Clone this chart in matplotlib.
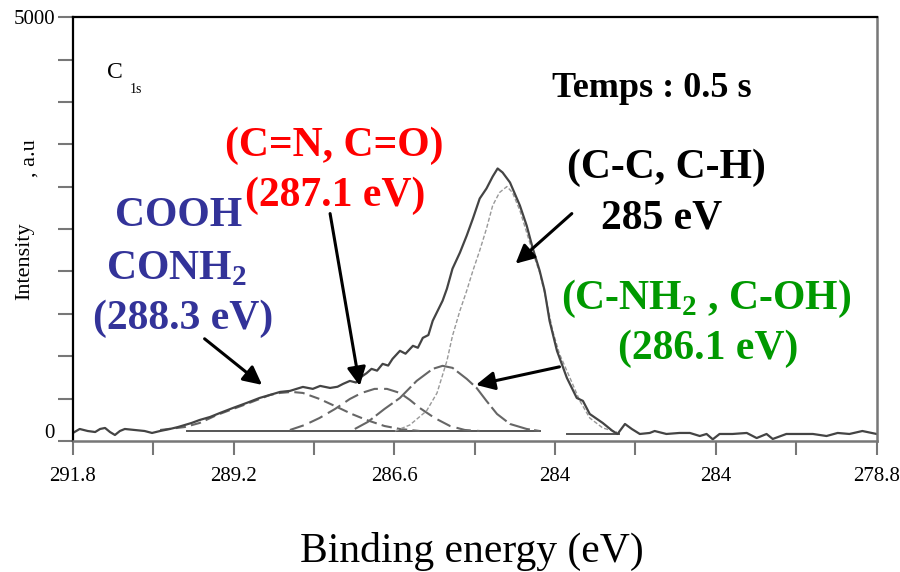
import matplotlib
matplotlib.use('Agg')
import matplotlib.pyplot as plt
import matplotlib.transforms as mtransforms

plt.rcParams['font.family'] = 'Liberation Serif'
plt.rcParams['mathtext.fontset'] = 'custom'
plt.rcParams['mathtext.rm'] = 'Liberation Serif'
plt.rcParams['mathtext.bf'] = 'Liberation Serif:bold'

# measured spectrum (binding energy in eV, intensity in a.u.)
env_e = [291.80, 291.69, 291.56, 291.44, 291.36, 291.28, 291.20, 291.12, 291.04, 290.96,
         290.80, 290.64, 290.52, 290.39, 290.23, 290.10, 289.99, 289.88, 289.75, 289.58,
         289.42, 289.21, 288.99, 288.78, 288.61, 288.45, 288.29, 288.08, 287.92, 287.80,
         287.64, 287.52, 287.43, 287.32, 287.22, 287.16, 287.05, 286.97, 286.88, 286.79,
         286.70, 286.63, 286.51, 286.42, 286.30, 286.22, 286.14, 286.05, 285.98,
         285.82, 285.75, 285.66, 285.54, 285.43, 285.33, 285.22, 285.11, 285.01, 284.93,
         284.85, 284.73, 284.57, 284.46, 284.36, 284.25, 284.17, 284.09, 283.97, 283.81,
         283.65, 283.55, 283.44, 283.23, 283.07, 282.99, 282.87, 282.76, 282.63, 282.47,
         282.39, 282.20, 281.99, 281.82, 281.66, 281.55, 281.45, 281.34, 281.13, 280.90,
         280.74, 280.58, 280.48, 280.26, 280.04, 279.83, 279.61, 279.43, 279.24, 279.03,
         278.80]
env_i = [95, 142, 118, 106, 142, 154, 106, 71, 118, 142,
         130, 118, 95, 118, 142, 165, 189, 213, 248, 284,
         331, 390, 449, 508, 544, 579, 591, 638, 615, 650,
         626, 640, 674, 709, 690, 745, 800, 851, 830, 910,
         890, 969, 1064, 1030, 1123, 1100, 1217, 1250, 1418,
         1655, 1797, 2033, 2222, 2423, 2624, 2860, 2979, 3120, 3215,
         3168, 3050, 2778, 2541, 2269, 2009, 1773, 1418, 1064, 745,
         508, 473, 319, 213, 118, 83, 201, 142, 83, 95,
         118, 83, 95, 95, 59, 83, 20, 83, 83, 95,
         35, 83, 24, 83, 83, 83, 59, 95, 83, 118,
         83]

# fitted components
cooh_e = [290.39, 289.99, 289.75, 289.47, 289.21, 288.99, 288.78, 288.61, 288.45, 288.26,
          288.08, 287.81, 287.53, 287.29, 287.05, 286.76, 286.51, 286.19]
cooh_i = [130, 165, 213, 307, 378, 437, 496, 544, 567, 579,
          567, 496, 402, 319, 248, 177, 142, 118]

cn_e = [288.29, 288.05, 287.81, 287.56, 287.32, 287.13, 286.92, 286.72, 286.51, 286.35,
        286.19, 285.95, 285.70, 285.46, 285.22]
cn_i = [130, 189, 272, 378, 496, 567, 615, 615, 567, 485,
        390, 272, 177, 130, 118]

cnh2_e = [287.24, 287.03, 286.76, 286.51, 286.24, 285.98, 285.82, 285.66, 285.43, 285.27,
          285.11, 284.94, 284.73, 284.46, 284.25]
cnh2_i = [142, 225, 378, 508, 709, 851, 887, 863, 733, 626,
          473, 319, 201, 142, 118]

cc_e = [286.59, 286.35, 286.08, 285.91, 285.75, 285.66, 285.54, 285.43, 285.33, 285.22,
        285.11, 285.01, 284.90, 284.78, 284.69, 284.57, 284.46, 284.36, 284.25, 284.14,
        284.04, 283.93, 283.76, 283.60, 283.44, 283.23, 283.00]
cc_i = [118, 189, 355, 567, 946, 1241, 1537, 1773, 2009, 2246,
        2506, 2778, 2931, 3002, 2931, 2719, 2459, 2222, 1986, 1655,
        1300, 1028, 745, 473, 272, 154, 106]

base_e = [289.96, 284.25]
base_i = [118, 118]
base2_e = [283.80, 282.96]
base2_i = [83, 83]

x_ticks = [291.8, 290.5, 289.2, 287.9, 286.6, 285.3, 284.0, 282.7, 281.4, 280.1, 278.8]
x_labels = ['291.8', '', '289.2', '', '286.6', '', '284', '', '284', '', '278.8']
y_ticks = [0, 500, 1000, 1500, 2000, 2500, 3000, 3500, 4000, 4500, 5000]
y_labels = ['0', '', '', '', '', '', '', '', '', '', '5000']


def main():
    fig = plt.figure(figsize=(9, 5.72), dpi=100)
    ax = fig.add_axes([0.081, 0.229, 0.893, 0.741])

    gray = '#555555'
    ax.plot(base_e, base_i, color=gray, lw=1.4)
    ax.plot(base2_e, base2_i, color=gray, lw=1.4)
    ax.plot(cooh_e, cooh_i, color='#666666', lw=1.5, dashes=(5, 2.5))
    ax.plot(cn_e, cn_i, color='#666666', lw=1.5, dashes=(7, 3))
    ax.plot(cnh2_e, cnh2_i, color='#666666', lw=1.5, dashes=(10, 2))
    ax.plot(cc_e, cc_i, color='#999999', lw=1.0, dashes=(3, 1.5))
    ax.plot(env_e, env_i, color='#444444', lw=1.6)

    ax.set_xlim(291.8, 278.8)
    ax.set_ylim(0, 5000)
    ax.set_xticks(x_ticks)
    ax.set_xticklabels(x_labels, fontsize=15)
    ax.set_yticks(y_ticks)
    ax.set_yticklabels(y_labels, fontsize=15)
    ax.tick_params(axis='x', direction='out', length=10, width=1.5, color='#777777', pad=9)
    ax.tick_params(axis='y', direction='out', length=11, width=1.5, color='#777777', pad=2)
    # the "0" label sits a bit above its tick in the scan
    off = mtransforms.ScaledTranslation(0, 10 / 100, fig.dpi_scale_trans)
    ax.get_yticklabels()[0].set_transform(ax.get_yticklabels()[0].get_transform() + off)

    ax.spines['top'].set_color('black')
    ax.spines['top'].set_linewidth(1.6)
    ax.spines['left'].set_color('black')
    ax.spines['left'].set_linewidth(1.6)
    ax.spines['right'].set_color('#777777')
    ax.spines['right'].set_linewidth(1.8)
    ax.spines['bottom'].set_color('#777777')
    ax.spines['bottom'].set_linewidth(1.8)

    # C 1s label
    ax.text(291.12, 4350, 'C', fontsize=17, ha='center', va='center')
    ax.text(290.78, 4150, '1s', fontsize=10, ha='center', va='center')

    bold = dict(fontweight='bold', ha='center', va='center')
    ax.text(282.44, 4161, 'Temps : 0.5 s', fontsize=26, color='black', **bold)
    ax.text(287.58, 3487, '(C=N, C=O)', fontsize=30, color='#ff0000', **bold)
    ax.text(287.56, 2896, '(287.1 eV)', fontsize=30, color='#ff0000', **bold)
    blue = '#333399'
    ax.text(290.09, 2660, 'COOH', fontsize=30, color=blue, **bold)
    ax.text(290.13, 2033, r'CONH$_\mathbf{2}$', fontsize=30, color=blue, **bold)
    ax.text(290.02, 1442, '(288.3 eV)', fontsize=30, color=blue, **bold)
    ax.text(282.20, 3227, '(C-C, C-H)', fontsize=30, color='black', **bold)
    ax.text(282.28, 2624, '285 eV', fontsize=30, color='black', **bold)
    green = '#009900'
    ax.text(281.55, 1678, r'(C-NH$_\mathbf{2}$ , C-OH)', fontsize=30, color=green, **bold)
    ax.text(281.53, 1087, '(286.1 eV)', fontsize=30, color=green, **bold)

    arrow = dict(arrowstyle='-|>', color='black', lw=2.2, mutation_scale=28,
                 shrinkA=0, shrinkB=0)
    ax.annotate('', xy=(288.74, 662), xytext=(289.67, 1206), arrowprops=arrow)
    ax.annotate('', xy=(287.16, 650), xytext=(287.64, 2683), arrowprops=arrow)
    ax.annotate('', xy=(284.64, 2092), xytext=(283.73, 2683), arrowprops=arrow)
    ax.annotate('', xy=(285.28, 662), xytext=(283.93, 875), arrowprops=arrow)

    fig.text(0.028, 0.544, 'Intensity', rotation=90, fontsize=16, ha='center', va='center')
    fig.text(0.033, 0.724, ', a.u', rotation=90, fontsize=16, ha='center', va='center')
    fig.text(0.524, 0.036, 'Binding energy (eV)', fontsize=30, ha='center', va='center')

    fig.savefig('out.png', dpi=100)


if __name__ == "__main__":
    main()
